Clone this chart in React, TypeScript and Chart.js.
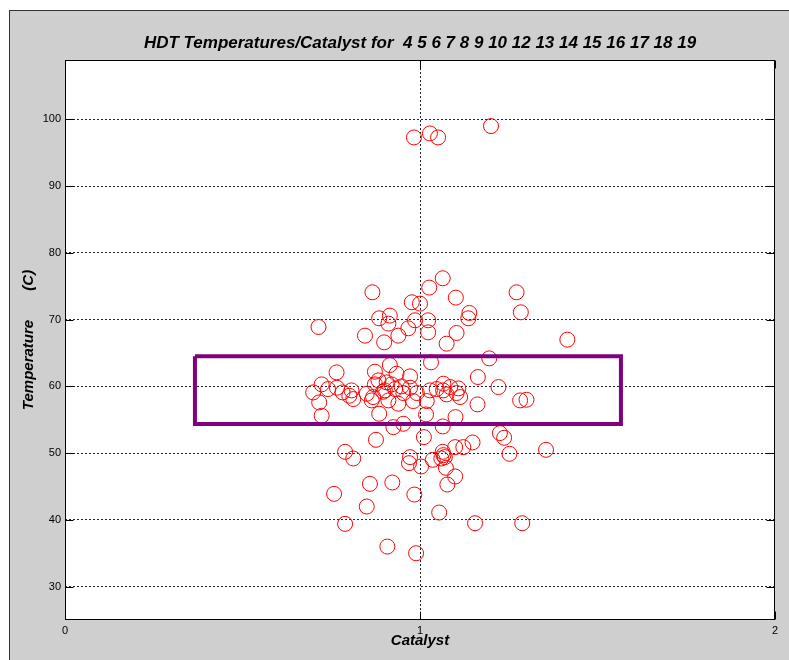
import React, { useEffect, useRef } from "react";
import { Chart, registerables } from "chart.js";

Chart.register(...registerables);

const TITLE = "HDT Temperatures/Catalyst for  4 5 6 7 8 9 10 12 13 14 15 16 17 18 19";
const X_TITLE = "Catalyst";
const Y_TITLE = "Temperature       (C)";

const xTicks = [0, 1, 2];
const yTicks = [30, 40, 50, 60, 70, 80, 90, 100];
const xRange = [0, 2];
const yRange = [25, 108.9];

// scatter points (catalyst, temperature), paired by index
const catalyst = [
  0.983, 1.028, 1.051, 1.2,
  0.866, 1.064, 1.026, 0.977, 1.0, 1.101, 1.272, 1.139, 1.136, 1.284, 1.103, 1.415, 1.195,
  0.714, 0.885, 0.915, 0.911, 0.845, 0.899, 0.939, 0.967, 0.986, 1.023, 1.023, 1.075, 1.031,
  0.765, 0.915, 0.873, 0.934, 0.972, 0.883, 1.163, 1.221,
  0.699, 0.716, 0.723, 0.723, 0.741, 0.766, 0.782, 0.801, 0.812, 0.807, 0.85, 0.864, 0.885,
  0.901, 0.911, 0.906, 0.873, 0.868, 0.896, 0.92, 0.93, 0.948, 0.953, 0.972, 0.991, 0.981,
  1.019, 1.028, 1.047, 1.065, 1.066, 1.075, 1.085, 1.103, 1.108, 1.113, 1.282, 1.3, 1.162,
  1.1, 1.064, 0.939,
  1.017, 0.925, 0.953, 1.011, 0.876, 1.225, 1.237,
  0.789, 0.812, 0.972, 0.969, 1.003, 1.036, 1.064, 1.066, 1.06, 1.07, 1.073, 1.099, 1.122,
  1.148, 1.252, 1.355, 1.099, 1.077, 0.859, 0.922, 0.758, 0.984, 0.85, 1.054, 0.789, 1.155,
  1.288, 0.908, 0.989,
];
const temperature = [
  97.3, 97.9, 97.3, 99.0,
  74.1, 76.2, 74.8, 72.6, 72.4, 73.3, 74.1, 71.0, 70.2, 71.1, 68.0, 67.0, 64.2,
  68.9, 70.2, 70.6, 69.4, 67.6, 66.6, 67.6, 68.7, 69.9, 69.9, 68.1, 66.4, 63.6,
  62.1, 63.2, 62.2, 61.9, 61.5, 60.9, 61.4, 59.9,
  59.1, 57.6, 55.6, 60.3, 59.6, 59.8, 59.1, 58.6, 58.1, 59.4, 58.9, 57.9, 55.9,
  59.4, 57.9, 60.6, 60.3, 58.4, 59.2, 60.3, 59.6, 60.0, 59.0, 59.8, 59.0, 57.8,
  57.8, 59.4, 59.6, 59.4, 60.4, 58.8, 59.9, 59.0, 59.7, 58.4, 57.9, 58.0, 57.3,
  55.4, 54.0, 57.4,
  55.8, 53.9, 54.4, 52.4, 52.0, 53.0, 52.3,
  50.2, 49.2, 49.4, 48.5, 48.0, 49.0, 50.2, 49.7, 49.2, 49.4, 47.8, 50.9, 50.9,
  51.6, 49.9, 50.5, 46.5, 45.3, 45.4, 45.6, 43.9, 43.8, 42.0, 41.1, 39.4, 39.5,
  39.5, 36.0, 35.0,
];

// target window rectangle corners
const boxCatalyst = [0.366, 1.566, 1.566, 0.366, 0.366];
const boxTemperature = [64.5, 64.5, 54.35, 54.35, 64.5];

const FONT = "'Liberation Sans', Arial, Helvetica, sans-serif";

export default function App() {
  const ref = useRef<HTMLCanvasElement | null>(null);

  useEffect(() => {
    document.body.style.margin = "0";
    const canvas = ref.current;
    if (!canvas) return;

    const framePlugin = {
      id: "matlabFrame",
      beforeDatasetsDraw(chart: any) {
        const { ctx, chartArea: a, scales } = chart;
        ctx.save();
        ctx.setLineDash([]);
        ctx.strokeStyle = "#000";
        ctx.lineWidth = 1;
        const L = Math.round(a.left) + 0.5;
        const T = Math.round(a.top) + 0.5;
        const R = Math.round(a.right) - 0.5;
        const B = Math.round(a.bottom) - 0.5;
        ctx.strokeRect(L, T, R - L, B - T);
        ctx.beginPath();
        const ys = scales.y;
        ys.ticks.forEach((t: any) => {
          const py = Math.round(ys.getPixelForValue(t.value)) + 0.5;
          ctx.moveTo(L, py);
          ctx.lineTo(L + 8, py);
          ctx.moveTo(R, py);
          ctx.lineTo(R - 8, py);
        });
        const xs = scales.x;
        xs.ticks.forEach((t: any) => {
          const px = Math.round(xs.getPixelForValue(t.value)) + 0.5;
          ctx.moveTo(px, B);
          ctx.lineTo(px, B - 8);
          ctx.moveTo(px, T);
          ctx.lineTo(px, T + 8);
        });
        ctx.stroke();
        ctx.restore();
      },
      afterDraw(chart: any) {
        const { ctx, chartArea: a } = chart;
        ctx.save();
        ctx.fillStyle = "#000";
        ctx.font = `italic bold 17px ${FONT}`;
        ctx.textAlign = "center";
        ctx.textBaseline = "middle";
        ctx.fillText(TITLE, (a.left + a.right) / 2, 43);
        ctx.restore();
      },
    };

    const chart = new Chart(canvas, {
      type: "scatter",
      data: {
        datasets: [
          {
            label: "window",
            data: boxCatalyst.map((x, i) => ({ x, y: boxTemperature[i] })),
            showLine: true,
            borderColor: "#800080",
            borderWidth: 4,
            pointRadius: 0,
            pointHoverRadius: 0,
            fill: false,
            tension: 0,
            borderJoinStyle: "miter",
            order: 0,
          },
          {
            label: "HDT",
            data: catalyst.map((x, i) => ({ x, y: temperature[i] })),
            showLine: false,
            pointStyle: "circle",
            pointRadius: 7.5,
            pointHoverRadius: 7.5,
            pointBorderWidth: 1,
            pointBorderColor: "#ff0000",
            pointBackgroundColor: "rgba(0,0,0,0)",
            order: 1,
          },
        ],
      },
      options: {
        animation: false,
        responsive: false,
        devicePixelRatio: 1,
        events: [],
        layout: { padding: { top: 60, right: 14, left: 0, bottom: 0 } },
        plugins: {
          legend: { display: false },
          tooltip: { enabled: false },
          title: { display: false },
        },
        scales: {
          x: {
            type: "linear",
            min: xRange[0],
            max: xRange[1],
            afterBuildTicks: (ax: any) => {
              ax.ticks = xTicks.map((v) => ({ value: v }));
            },
            afterFit: (ax: any) => {
              ax.height = 40;
            },
            grid: {
              color: (c: any) => (c.tick && c.tick.value === 1 ? "#222" : "rgba(0,0,0,0)"),
              lineWidth: 1,
              drawTicks: false,
            },
            border: { display: false, dash: [2, 2] },
            ticks: {
              padding: 4,
              color: "#000",
              font: { family: FONT, size: 11 },
              maxRotation: 0,
              autoSkip: false,
              callback: (v: any) => String(v),
            },
            title: {
              display: true,
              text: X_TITLE,
              color: "#000",
              font: { family: FONT, size: 15, weight: "bold", style: "italic" },
              padding: { top: 0, bottom: 10 },
            },
          },
          y: {
            type: "linear",
            min: yRange[0],
            max: yRange[1],
            afterBuildTicks: (ax: any) => {
              ax.ticks = yTicks.map((v) => ({ value: v }));
            },
            afterFit: (ax: any) => {
              ax.width = 65;
            },
            grid: {
              color: "#222",
              lineWidth: 1,
              drawTicks: false,
            },
            border: { display: false, dash: [2, 2] },
            ticks: {
              padding: 4,
              color: "#000",
              font: { family: FONT, size: 11 },
              autoSkip: false,
              callback: (v: any) => String(v),
            },
            title: {
              display: true,
              text: Y_TITLE,
              color: "#000",
              font: { family: FONT, size: 15, weight: "bold", style: "italic" },
              padding: { top: 20, bottom: 0 },
            },
          },
        },
      },
      plugins: [framePlugin],
    } as any);

    return () => {
      chart.destroy();
    };
  }, []);

  return (
    <div style={{ position: "relative", width: 789, height: 660, background: "#fff", overflow: "hidden" }}>
      <div
        style={{
          position: "absolute",
          left: 9,
          top: 10,
          width: 780,
          height: 650,
          background: "#cfcfcf",
          borderLeft: "1px solid #333",
          borderTop: "1px solid #333",
        }}
      />
      <div style={{ position: "absolute", left: 65, top: 60, width: 710, height: 560, background: "#fff" }} />
      <canvas ref={ref} width={789} height={660} style={{ position: "absolute", left: 0, top: 0, width: 789, height: 660 }} />
    </div>
  );
}
